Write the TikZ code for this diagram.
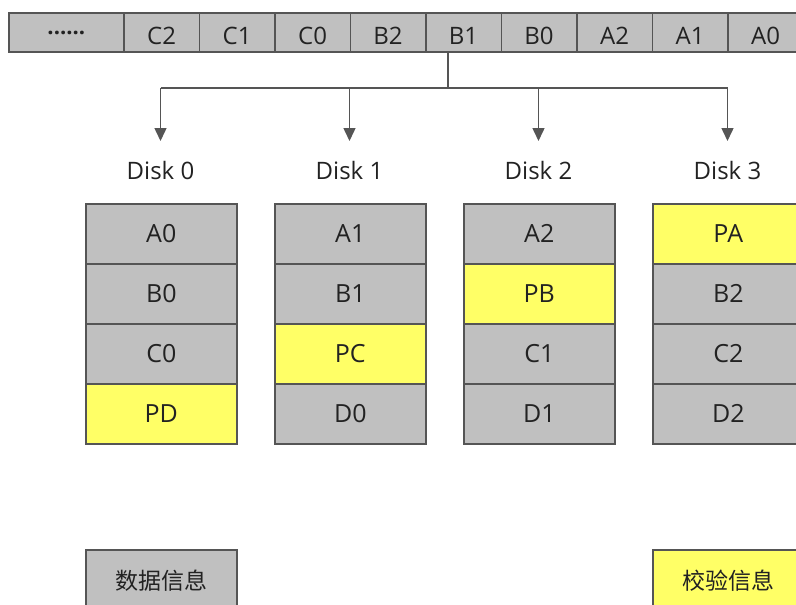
\documentclass[tikz,border=0pt]{standalone}
\usepackage{fontspec}
\setmainfont{Open Sans}
\newfontfamily\cjk{Noto Sans CJK SC}
\usetikzlibrary{arrows.meta}
\definecolor{cellgray}{HTML}{C0C0C0}
\definecolor{cellyellow}{HTML}{FFFF66}
\definecolor{edge}{HTML}{555555}
\definecolor{txt}{HTML}{222222}
\begin{document}
\begin{tikzpicture}[x=1pt,y=-1pt,
  cell/.style={draw=edge,line width=1.6pt,fill=cellgray,minimum width=75.5pt,minimum height=39pt,inner sep=0pt,text height=24pt,text depth=0pt,text=txt,font=\fontsize{24}{28}\selectfont},
  blk/.style={draw=edge,line width=1.6pt,fill=cellgray,minimum width=151pt,minimum height=60pt,inner sep=0pt,text=txt,font=\fontsize{25}{28}\selectfont},
  par/.style={blk,fill=cellyellow},
  disklbl/.style={text=txt,font=\fontsize{24}{28}\selectfont,inner sep=0pt},
  legend/.style={draw=edge,line width=1.6pt,minimum width=151pt,minimum height=62pt,inner sep=0pt,text=txt,font=\cjk\fontsize{23}{28}\selectfont},
  conn/.style={draw=edge,line width=1.5pt},
  arr/.style={conn,-{Triangle[length=13pt,width=12pt]}}]
\useasboundingbox (0,0) rectangle (796,605);
% top strip
\node[cell,minimum width=115pt,anchor=north west] (dots) at (8,12) {\raisebox{10pt}{\textbf{\fontsize{22}{22}\selectfont ......}}};
\node[cell,anchor=north west] (c2) at (123,12) {C2};
\node[cell,anchor=north west] (c1) at (198.5,12) {C1};
\node[cell,anchor=north west] (c0) at (274,12) {C0};
\node[cell,anchor=north west] (b2) at (349.5,12) {B2};
\node[cell,anchor=north west] (b1) at (425,12) {B1};
\node[cell,anchor=north west] (b0) at (500.5,12) {B0};
\node[cell,anchor=north west] (a2) at (576,12) {A2};
\node[cell,anchor=north west] (a1) at (651.5,12) {A1};
\node[cell,anchor=north west] (a0) at (727,12) {A0};
% disk labels
\node[disklbl] (d0) at (160.5,170) {Disk 0};
\node[disklbl] (d1) at (349.5,170) {Disk 1};
\node[disklbl] (d2) at (538.5,170) {Disk 2};
\node[disklbl] (d3) at (727.5,170) {Disk 3};
% connectors
\coordinate (split) at (448,88);
\coordinate (j0) at (160.5,88);
\coordinate (j1) at (349.5,88);
\coordinate (j2) at (538.5,88);
\coordinate (j3) at (727.5,88);
\coordinate (t0) at (160.5,141);
\coordinate (t1) at (349.5,141);
\coordinate (t2) at (538.5,141);
\coordinate (t3) at (727.5,141);
\draw[conn] (b1.south -| split) -- (split);
\draw[conn] (j0) -- (j3);
\draw[arr] (j0) -- (t0);
\draw[arr] (j1) -- (t1);
\draw[arr] (j2) -- (t2);
\draw[arr] (j3) -- (t3);
% disk 0
\node[blk,anchor=north west] (d0r1) at (85,203) {A0};
\node[blk,anchor=north west] (d0r2) at (85,263) {B0};
\node[blk,anchor=north west] (d0r3) at (85,323) {C0};
\node[par,anchor=north west] (d0r4) at (85,383) {PD};
% disk 1
\node[blk,anchor=north west] (d1r1) at (274,203) {A1};
\node[blk,anchor=north west] (d1r2) at (274,263) {B1};
\node[par,anchor=north west] (d1r3) at (274,323) {PC};
\node[blk,anchor=north west] (d1r4) at (274,383) {D0};
% disk 2
\node[blk,anchor=north west] (d2r1) at (463,203) {A2};
\node[par,anchor=north west] (d2r2) at (463,263) {PB};
\node[blk,anchor=north west] (d2r3) at (463,323) {C1};
\node[blk,anchor=north west] (d2r4) at (463,383) {D1};
% disk 3
\node[par,anchor=north west] (d3r1) at (652,203) {PA};
\node[blk,anchor=north west] (d3r2) at (652,263) {B2};
\node[blk,anchor=north west] (d3r3) at (652,323) {C2};
\node[blk,anchor=north west] (d3r4) at (652,383) {D2};
% legend
\node[legend,fill=cellgray,anchor=north west] (ldata) at (85,549) {数据信息};
\node[legend,fill=cellyellow,anchor=north west] (lpar) at (652,549) {校验信息};
\end{tikzpicture}
\end{document}
